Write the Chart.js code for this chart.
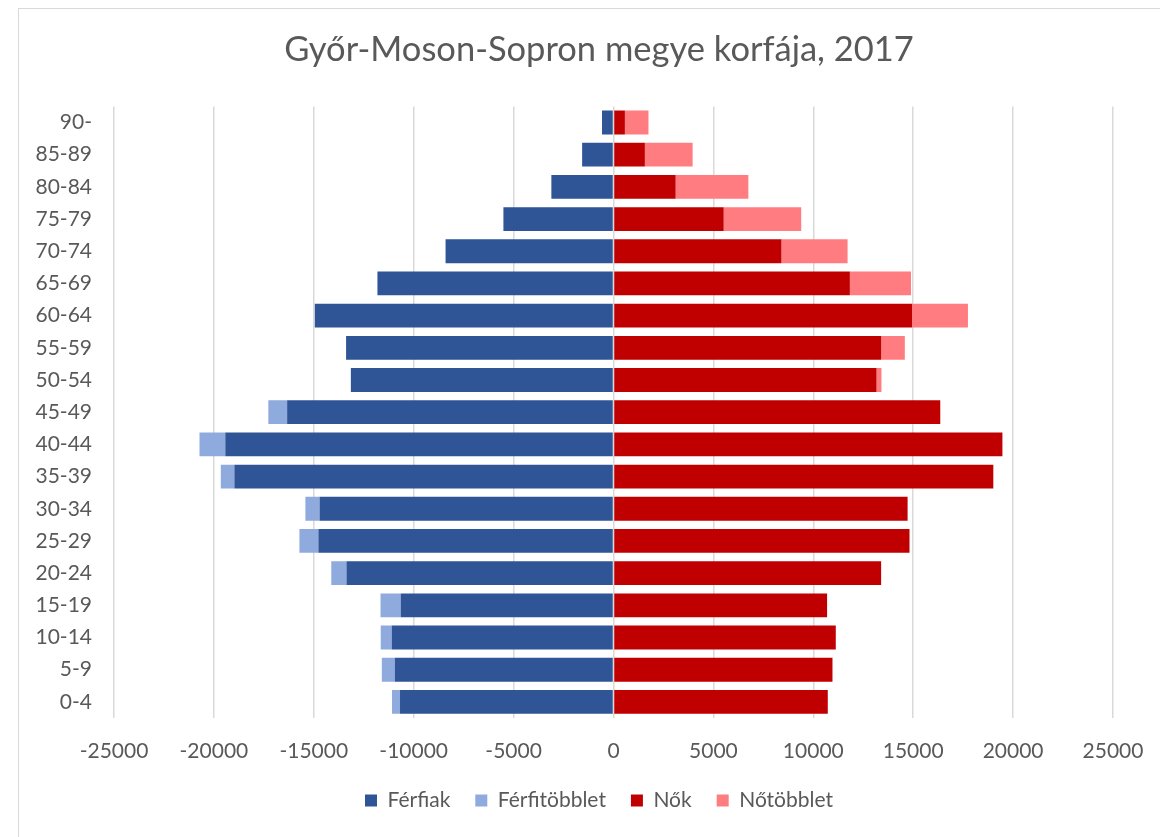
<!DOCTYPE html>
<html lang="hu">
<head>
<meta charset="utf-8">
<title>Győr-Moson-Sopron megye korfája, 2017</title>
<script src="https://cdn.jsdelivr.net/npm/chart.js@4.4.6/dist/chart.umd.min.js"></script>
<style>
  html, body { margin: 0; padding: 0; background: #fff; overflow: hidden; }
  body { width: 1160px; height: 837px; position: relative; }
  #frame {
    position: absolute; left: 18px; top: 8px; width: 1200px; height: 900px;
    border-left: 1px solid #d9d9d9; border-top: 1px solid #d9d9d9;
  }
  #wrap { position: absolute; left: 18px; top: 8px; width: 1162px; height: 829px; }
</style>
</head>
<body>
<div id="frame"></div>
<div id="wrap"><canvas id="korfa" width="1162" height="829"></canvas></div>
<script>
// korcsoportok, felülről lefelé
const categories = ['90-', '85-89', '80-84', '75-79', '70-74', '65-69', '60-64', '55-59', '50-54', '45-49',
  '40-44', '35-39', '30-34', '25-29', '20-24', '15-19', '10-14', '5-9', '0-4'];

// közös rész (férfiak oldal)
const ferfiak = [575, 1570, 3110, 5510, 8405, 11815, 14950, 13385, 13145, 16335,
  19430, 18975, 14710, 14770, 13365, 10650, 11100, 10945, 10685];
const ferfiTobblet = [0, 0, 0, 0, 0, 0, 0, 0, 0, 940,
  1290, 680, 710, 950, 760, 1010, 550, 650, 400];
// közös rész (nők oldal)
const nok = [570, 1570, 3110, 5515, 8405, 11830, 14940, 13400, 13165, 16355,
  19465, 19010, 14720, 14815, 13395, 10690, 11125, 10960, 10725];
const noTobblet = [1180, 2390, 3640, 3880, 3310, 3060, 2800, 1180, 245, 0,
  0, 0, 0, 0, 0, 0, 0, 0, 0];

const xTicks = [-25000, -20000, -15000, -10000, -5000, 0, 5000, 10000, 15000, 20000, 25000];

const textColor = '#595959';
const fontFamily = 'Lato, "Open Sans", sans-serif';

const neg = arr => arr.map(v => -v);

new Chart(document.getElementById('korfa'), {
  type: 'bar',
  data: {
    labels: categories,
    datasets: [
      { label: 'Férfiak', data: neg(ferfiak), backgroundColor: '#2F5597', stack: 'f' },
      { label: 'Férfitöbblet', data: neg(ferfiTobblet), backgroundColor: '#8FAADC', stack: 'f' },
      { label: 'Nők', data: nok, backgroundColor: '#C00000', stack: 'f' },
      { label: 'Nőtöbblet', data: noTobblet, backgroundColor: '#FF7C80', stack: 'f' }
    ]
  },
  options: {
    indexAxis: 'y',
    responsive: false,
    animation: false,
    barPercentage: 0.74,
    categoryPercentage: 1,
    layout: { padding: { left: 0, right: 0, top: 0, bottom: 16 } },
    scales: {
      x: {
        stacked: true,
        min: -25000,
        max: 25000,
        afterBuildTicks: scale => { scale.ticks = xTicks.map(v => ({ value: v })); },
        afterFit: scale => { scale.height = 47; },
        grid: { color: '#d9d9d9', lineWidth: 1.5, drawTicks: false },
        border: { display: false },
        ticks: {
          color: textColor, padding: 21, maxRotation: 0,
          font: { family: fontFamily, size: 21 },
          callback: v => String(v)
        }
      },
      y: {
        stacked: true,
        afterFit: scale => { scale.width = 96; },
        grid: { display: false, drawTicks: false },
        border: { display: false },
        ticks: { color: textColor, padding: 22, font: { family: fontFamily, size: 21 } }
      },
      yRight: {
        type: 'linear',
        position: 'right',
        afterFit: scale => { scale.width = 67; },
        grid: { display: false, drawTicks: false },
        border: { display: false },
        ticks: { display: false }
      }
    },
    plugins: {
      title: {
        display: true,
        text: 'Győr-Moson-Sopron megye korfája, 2017',
        color: textColor,
        font: { family: fontFamily, size: 34.5, weight: 'normal' },
        padding: { top: 21, bottom: 36 }
      },
      legend: {
        position: 'bottom',
        labels: {
          color: textColor,
          boxWidth: 12,
          boxHeight: 12,
          padding: 25,
          font: { family: fontFamily, size: 21 }
        }
      },
      tooltip: { enabled: false }
    }
  }
});
</script>
</body>
</html>
